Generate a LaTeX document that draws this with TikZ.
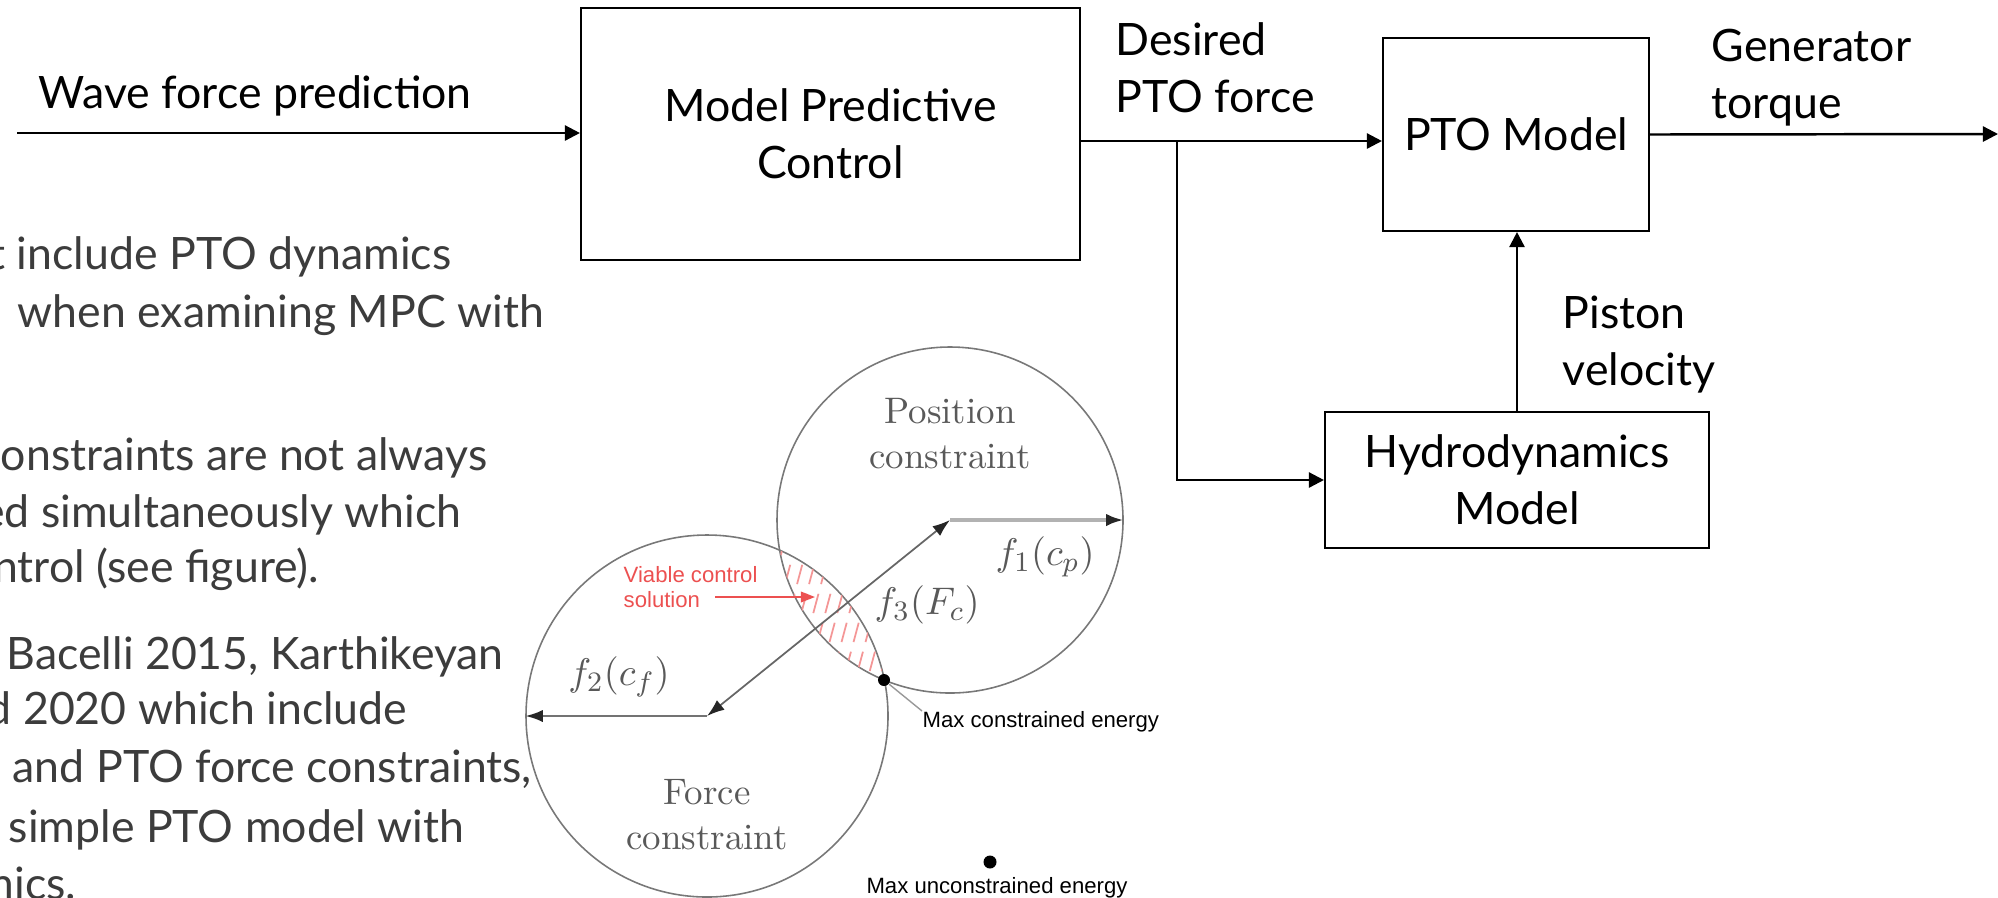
\documentclass[tikz,border=0pt]{standalone}
\usepackage{fontspec}
\setmainfont{Lato}
\newfontfamily\cmfont{Latin Modern Roman}
\newfontfamily\helvfont{Liberation Sans}
\usetikzlibrary{arrows.meta}
\definecolor{bodygray}{RGB}{60,60,60}
\definecolor{ringgray}{RGB}{120,120,120}
\definecolor{viable}{RGB}{236,80,80}

\begin{document}
\begin{tikzpicture}[
    every node/.style={font=\fontsize{12.7}{16.2}\selectfont},
    block/.style={draw, line width=0.6pt, inner sep=0pt, align=center},
    sig/.style={align=left, inner sep=0pt, anchor=base west},
    flow/.style={line width=0.7pt, -{Triangle[length=4.3pt,width=4.3pt]}},
    bullet/.style={inner sep=0pt, anchor=base east, text=bodygray},
    ring/.style={draw=ringgray, line width=0.45pt, circle, inner sep=0pt},
    mathlbl/.style={text=black!65, font=\fontsize{11}{13}\selectfont},
    cmlbl/.style={text=black!65, align=center, font=\cmfont\fontsize{10.5}{12.8}\selectfont},
    smalllbl/.style={font=\helvfont\fontsize{6.3}{7.1}\selectfont, inner sep=0pt},
    dot/.style={circle, fill=black, inner sep=0pt, minimum size=0.12cm}
]
    \useasboundingbox (0,0) rectangle (19.98,-8.97);
    \clip (0,0) rectangle (19.98,-8.97);

    \node[bullet] (l1) at (4.52,-2.69) {t include PTO dynamics};
    \node[bullet, anchor=base west] (l2) at (0.17,-3.27) {when examining MPC with};
    \node[bullet] (l3) at (4.88,-4.70) {constraints are not always};
    \node[bullet] (l4) at (4.62,-5.27) {ed simultaneously which};
    \node[bullet] (l5) at (3.20,-5.82) {ntrol (see figure).};
    \node[bullet, anchor=base west] (l6) at (0.06,-6.69) {Bacelli 2015, Karthikeyan};
    \node[bullet, anchor=base west] (l7) at (-0.14,-7.24) {d 2020 which include};
    \node[bullet, anchor=base west] (l8) at (0.12,-7.82) {and PTO force constraints,};
    \node[bullet, anchor=base west] (l9) at (0.08,-8.42) {simple PTO model with};
    \node[bullet] (l10) at (0.77,-8.99) {mics.};

    \node[block, minimum width=4.99cm, minimum height=2.52cm] (mpc) at (8.305,-1.34) {Model Predictive\\Control};
    \node[block, minimum width=2.66cm, minimum height=1.93cm] (pto) at (15.16,-1.345) {PTO Model};
    \node[block, minimum width=3.84cm, minimum height=1.36cm] (hydro) at (15.17,-4.80) {Hydrodynamics\\Model};

    \coordinate (wavein) at (0.17,-1.33);
    \coordinate (split) at (11.77,-1.41);
    \coordinate (torqueout) at (19.98,-1.34);

    \draw[flow] (wavein) -- (mpc.west |- wavein);
    \draw[line width=0.7pt] (mpc.east |- split) -- (split);
    \draw[flow] (split) -- (pto.west |- split);
    \draw[flow] (split) |- (hydro.west);
    \draw[flow] (pto.east) -- (torqueout);
    \draw[flow] (hydro.north) -- (hydro.north |- pto.south);

    \node[sig] (wave) at (0.38,-1.08) {Wave force prediction};
    \node[sig] (desired) at (11.15,-1.12) {Desired\\PTO force};
    \node[sig] (generator) at (17.11,-1.18) {Generator\\torque};
    \node[sig] (piston) at (15.62,-3.85) {Piston\\velocity};

    \node[ring, minimum size=3.46cm] (posc) at (9.50,-5.20) {};
    \node[ring, minimum size=3.62cm] (forcec) at (7.07,-7.16) {};
    \begin{scope}
        \clip (9.50,-5.20) circle (1.73);
        \clip (7.07,-7.16) circle (1.81);
        \foreach \i in {0,...,14}
            \draw[viable!60, line width=0.5pt, dash pattern=on 2mm off 1mm] (7.3+0.12*\i,-7.0) -- ++(75:1.7);
    \end{scope}

    \draw[black!60, line width=0.5pt, {Latex[length=5pt,width=3.5pt,color=black!85]}-{Latex[length=5pt,width=3.5pt,color=black!85]}] (forcec.center) -- (posc.center);
    \draw[black!30, line width=1.2pt, -{Latex[length=5pt,width=3.5pt,color=black!85]}] (posc.center) -- (posc.east);
    \draw[black!55, line width=0.8pt, -{Latex[length=5pt,width=3.5pt,color=black!85]}] (forcec.center) -- (forcec.west);

    \node[mathlbl] (f1) at (10.45,-5.57) {$f_1(c_p)$};
    \node[mathlbl] (f3) at (9.27,-6.05) {$f_3(F_c)$};
    \node[mathlbl] (f2) at (6.19,-6.77) {$f_2(c_f)$};
    \node[cmlbl] (poslbl) at (9.50,-4.34) {Position\\constraint};
    \node[cmlbl] (forcelbl) at (7.07,-8.15) {Force\\constraint};

    \node[smalllbl, text=viable, align=left, anchor=west] (viab) at (6.23,-5.87) {Viable control\\solution};
    \coordinate (viabtail) at (7.15,-5.97);
    \coordinate (viabtip) at (8.15,-5.97);
    \draw[viable, line width=0.5pt, -{Triangle[length=4pt,width=3pt]}] (viabtail) -- (viabtip);

    \node[dot] (maxc) at (8.84,-6.80) {};
    \node[smalllbl, anchor=west] (maxclbl) at (9.22,-7.22) {Max constrained energy};
    \draw[black!40, line width=0.4pt] (maxc) -- (maxclbl.north west);
    \node[dot, minimum size=0.13cm] (maxu) at (9.90,-8.62) {};
    \node[smalllbl] (maxulbl) at (9.97,-8.88) {Max unconstrained energy};
\end{tikzpicture}
\end{document}
